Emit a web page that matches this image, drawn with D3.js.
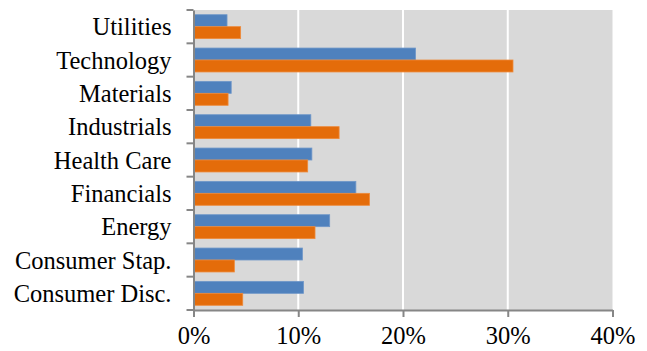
<!DOCTYPE html>
<html>
<head>
<meta charset="utf-8">
<script src="https://cdn.jsdelivr.net/npm/d3@7"></script>
<style>
  html, body { margin: 0; padding: 0; background: #fff; }
  text { font-family: "Liberation Serif", serif; fill: #000; }
</style>
</head>
<body>
<svg id="chart" width="647" height="351"></svg>
<script>
// categories listed top to bottom
const sectors = ["Utilities", "Technology", "Materials", "Industrials", "Health Care",
  "Financials", "Energy", "Consumer Stap.", "Consumer Disc."];
const seriesA = [3.2, 21.2, 3.6, 11.2, 11.3, 15.5, 13.0, 10.4, 10.5];
const seriesB = [4.5, 30.5, 3.3, 13.9, 10.9, 16.8, 11.6, 3.9, 4.7];
const xTicks = [0, 10, 20, 30, 40];

const plotLeft = 193.5, plotRight = 612.5, plotTop = 10, plotBottom = 310;

const svg = d3.select("#chart");

const x = d3.scaleLinear().domain([0, 40]).range([plotLeft, plotRight]);
const y = d3.scaleBand().domain(sectors).range([plotTop, plotBottom]);
const inner = d3.scaleBand().domain(["a", "b"]).range([0, y.bandwidth()]).paddingOuter(0.22 / 0.28 * 0.5);

// plot background
svg.append("rect")
  .attr("x", plotLeft).attr("y", plotTop)
  .attr("width", plotRight - plotLeft).attr("height", plotBottom - plotTop)
  .attr("fill", "#d9d9d9");

// gridlines
svg.append("g")
  .selectAll("line")
  .data(xTicks.filter(d => d > 0 && d < 40))
  .join("line")
  .attr("x1", d => x(d)).attr("x2", d => x(d))
  .attr("y1", plotTop).attr("y2", plotBottom)
  .attr("stroke", "#fff").attr("stroke-width", 2);

const rows = sectors.map((s, i) => ({ s, a: seriesA[i], b: seriesB[i] }));

const g = svg.append("g").selectAll("g")
  .data(rows)
  .join("g")
  .attr("transform", d => `translate(0,${y(d.s)})`);

g.append("rect")
  .attr("x", x(0)).attr("y", inner("a"))
  .attr("width", d => x(d.a) - x(0)).attr("height", inner.bandwidth())
  .attr("fill", "#4f81bd").attr("stroke", "#6f97c9").attr("stroke-width", 0.8);

g.append("rect")
  .attr("x", x(0)).attr("y", inner("b"))
  .attr("width", d => x(d.b) - x(0)).attr("height", inner.bandwidth())
  .attr("fill", "#e46c0a").attr("stroke", "#ee8a3a").attr("stroke-width", 0.8);

// y axis
const yAxis = svg.append("g")
  .attr("transform", `translate(${plotLeft},0)`)
  .call(d3.axisLeft(y).tickSize(0).tickPadding(22));
yAxis.select(".domain").attr("stroke", "#868686").attr("stroke-width", 2);
yAxis.selectAll("text").style("font-size", "24.5px").attr("dy", "0.35em");

// category boundary ticks
svg.append("g").selectAll("line")
  .data(d3.range(sectors.length + 1))
  .join("line")
  .attr("x1", plotLeft - 7).attr("x2", plotLeft)
  .attr("y1", i => plotTop + i * y.step()).attr("y2", i => plotTop + i * y.step())
  .attr("stroke", "#868686").attr("stroke-width", 2);

// x axis
const xAxis = svg.append("g")
  .attr("transform", `translate(0,${plotBottom})`)
  .call(d3.axisBottom(x).tickValues(xTicks).tickFormat(d => d + "%").tickSize(7).tickSizeOuter(0).tickPadding(10));
xAxis.select(".domain").attr("stroke", "#868686").attr("stroke-width", 2);
xAxis.selectAll(".tick line").attr("stroke", "#868686").attr("stroke-width", 2);
xAxis.selectAll("text").style("font-size", "24.5px");
</script>
</body>
</html>
